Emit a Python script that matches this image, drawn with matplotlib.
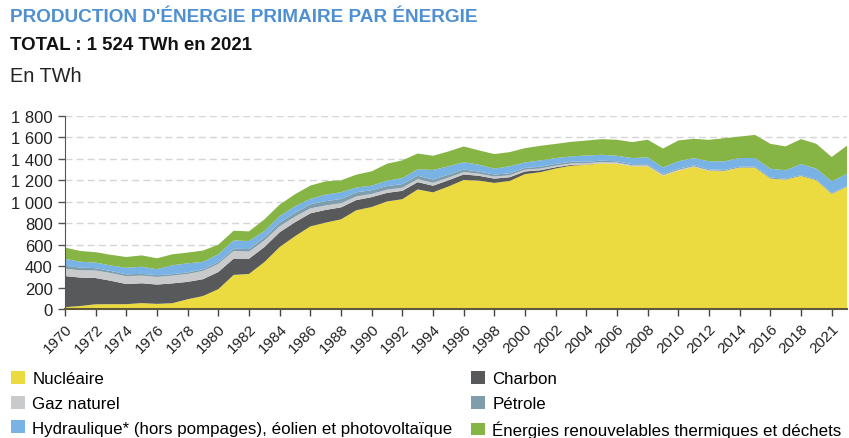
import matplotlib
matplotlib.use("Agg")
from matplotlib import pyplot as plt
from matplotlib.patches import Patch
from matplotlib.ticker import FuncFormatter

plt.rcParams['font.family'] = ['Liberation Sans', 'DejaVu Sans']

years = list(range(1970, 2022))

# TWh
nucleaire = [17, 28, 44, 45, 45, 55, 48, 54, 91, 121,
             185, 318, 327, 437, 578, 679, 770, 806, 836, 921,
             951, 1003, 1024, 1115, 1088, 1142, 1203, 1197, 1176, 1194,
             1258, 1276, 1310, 1336, 1345, 1358, 1355, 1330, 1330, 1242,
             1290, 1325, 1288, 1285, 1318, 1318, 1216, 1206, 1240, 1200,
             1073, 1140]
charbon = [290, 265, 245, 218, 188, 185, 180, 185, 162, 157,
           160, 152, 142, 140, 138, 130, 122, 118, 112, 95,
           92, 80, 78, 68, 62, 58, 52, 45, 40, 35,
           25, 18, 12, 8, 3, 1, 0.5, 0.5, 0.5, 0.5,
           0.5, 0.5, 0.5, 0.3, 0.3, 0.3, 0.3, 0.3, 0.3, 0.3,
           0.3, 0.3]
gaz = [68, 68, 70, 72, 73, 72, 71, 72, 74, 77,
       76, 72, 66, 62, 56, 52, 46, 42, 38, 34,
       30, 30, 29, 28, 27, 25, 22, 20, 19, 18,
       17, 16, 15, 14, 12, 11, 10, 9, 8, 8,
       7, 6, 5, 3, 1, 0.5, 0.3, 0.3, 0.3, 0.3,
       0.3, 0.3]
petrole = [27, 25, 22, 19, 17, 16, 16, 14, 14, 14,
           16, 20, 24, 28, 32, 36, 38, 40, 40, 38,
           35, 34, 34, 32, 30, 28, 24, 20, 19, 18,
           16, 16, 16, 15, 14, 13, 12, 11, 11, 10,
           10, 10, 9, 9, 9, 9, 9, 9, 8, 8,
           8, 7]
hydraulique = [66, 55, 52, 52, 62, 66, 56, 83, 85, 70,
               73, 78, 75, 60, 62, 62, 51, 61, 63, 45,
               42, 50, 55, 60, 90, 77, 68, 64, 55, 66,
               51, 60, 54, 50, 58, 55, 52, 57, 65, 60,
               70, 66, 75, 80, 80, 80, 83, 78, 104, 100,
               110, 112]
enr_thermiques = [105, 100, 97, 99, 100, 106, 102, 102, 100, 106,
                  90, 90, 90, 108, 108, 111, 124, 124, 111, 120,
                  134, 158, 166, 147, 132, 139, 147, 133, 136, 132,
                  133, 136, 133, 136, 139, 146, 149, 149, 164, 176,
                  194, 180, 200, 216, 200, 216, 232, 223, 232, 232,
                  226, 264]

labels = ["Nucléaire", "Charbon", "Gaz naturel", "Pétrole",
          "Hydraulique* (hors pompages), éolien et photovoltaïque",
          "Énergies renouvelables thermiques et déchets"]
colors = ["#ECDB40", "#58595B", "#C9CACC", "#7E9DAD", "#79B3E5", "#86B545"]

# even-year ticks; the last one carries the "2021" label as in the source
tick_years = list(range(1970, 2021, 2))
tick_labels = [str(y) for y in tick_years[:-1]] + ["2021"]

fig = plt.figure(figsize=(8.49, 4.39), dpi=100)
ax = fig.add_axes([65 / 849, 1 - 310 / 439, 782 / 849, 193 / 439])

ax.stackplot(years, nucleaire, charbon, gaz, petrole, hydraulique, enr_thermiques,
             colors=colors, linewidth=0, zorder=2)

ax.set_xlim(1970, 2021)
ax.set_ylim(0, 1800)
ax.set_yticks(range(0, 1801, 200))
ax.yaxis.set_major_formatter(FuncFormatter(lambda v, p: f"{int(v):,}".replace(",", " ")))
ax.grid(axis='y', color='#D5D5D5', linestyle=(0, (5, 3)), linewidth=1, zorder=0)

ax.set_xticks(tick_years)
ax.set_xticklabels(tick_labels, rotation=45, ha='right', va='top',
                   rotation_mode='anchor')
ax.tick_params(axis='x', length=5, width=1, color='#444444', labelsize=11,
               labelcolor='#222222', pad=4)
ax.tick_params(axis='y', length=5, width=1, color='#555555', labelsize=12,
               labelcolor='#222222', pad=4)

for s in ['top', 'right']:
    ax.spines[s].set_visible(False)
ax.spines['left'].set_color('#555555')
ax.spines['bottom'].set_color('#5E5A3A')
ax.spines['bottom'].set_linewidth(1.5)
ax.spines['bottom'].set_zorder(3)

fig.text(10 / 849, 1 - 17 / 439, "PRODUCTION D'ÉNERGIE PRIMAIRE PAR ÉNERGIE",
         color='#4F90D2', fontsize=13.7, fontweight='bold', va='center', ha='left')
fig.text(10 / 849, 1 - 45 / 439, "TOTAL : 1 524 TWh en 2021",
         color='#111111', fontsize=13.4, fontweight='bold', va='center', ha='left')
fig.text(10 / 849, 1 - 76 / 439, "En TWh",
         color='#222222', fontsize=14.3, va='center', ha='left')

handles = [Patch(facecolor=c, edgecolor='none') for c in colors]
order = [0, 2, 4, 1, 3, 5]
fig.legend([handles[i] for i in order], [labels[i] for i in order],
           loc='upper left', bbox_to_anchor=(11 / 849, 1 - 372 / 439), ncol=2,
           frameon=False, fontsize=12.2, handlelength=0.8, handleheight=0.8,
           handletextpad=0.45, columnspacing=1.1, labelspacing=0.55,
           borderaxespad=0, borderpad=0)

fig.savefig("out.png", dpi=100)
